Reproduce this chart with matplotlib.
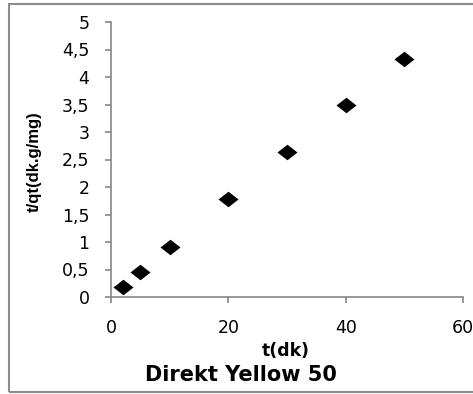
import matplotlib
matplotlib.use("Agg")
import matplotlib.pyplot as plt
from matplotlib.patches import Rectangle

# Kinetic data: contact time (min) vs t/qt
t_dk = [2, 5, 10, 20, 30, 40, 50]
t_qt = [0.19, 0.46, 0.91, 1.78, 2.63, 3.50, 4.32]

x_ticks = [0, 20, 40, 60]
y_ticks = [0, 0.5, 1, 1.5, 2, 2.5, 3, 3.5, 4, 4.5, 5]
y_tick_labels = ["0", "0,5", "1", "1,5", "2", "2,5", "3", "3,5", "4", "4,5", "5"]

plt.rcParams["font.family"] = ["DejaVu Sans"]

W, H = 473, 394
fig = plt.figure(figsize=(W / 100, H / 100), dpi=100)
ax = fig.add_axes([111 / W, 1 - 297 / H, 352 / W, 275 / H])

# slightly flattened diamond marker
diamond = [(-1, 0), (0, 0.78), (1, 0), (0, -0.78), (-1, 0)]
ax.plot(t_dk, t_qt, linestyle="none", marker=diamond, markersize=14.4,
        color="black", markeredgewidth=0)

ax.set_xlim(0, 60)
ax.set_ylim(0, 5)
ax.set_xticks(x_ticks)
ax.set_yticks(y_ticks)
ax.set_yticklabels(y_tick_labels)

gray = "#868686"
for side in ["top", "right"]:
    ax.spines[side].set_visible(False)
for side in ["left", "bottom"]:
    ax.spines[side].set_color(gray)
    ax.spines[side].set_linewidth(1.2)
ax.tick_params(axis="both", direction="out", length=4.5, width=1.2, color=gray,
               labelsize=12.5, labelcolor="black")
ax.tick_params(axis="x", pad=11)
ax.tick_params(axis="y", pad=11)

fig.text(34 / W, 1 - 161.7 / H, "t/qt(dk.g/mg)", ha="center", va="center",
         rotation=90, fontsize=12, fontweight="bold",
         family=["Liberation Sans", "DejaVu Sans"])
fig.text(286 / W, 1 - 356 / H, "t(dk)", ha="center", va="baseline",
         fontsize=12.5, fontweight="bold")
fig.text(241 / W, 1 - 380.7 / H, "Direkt Yellow 50", ha="center",
         va="baseline", fontsize=15, fontweight="bold")

# outer chart frame (right edge runs past the canvas)
fig.patches.append(Rectangle((8.5 / W, 1 - 391.5 / H), 475 / W, 387.5 / H,
                             transform=fig.transFigure, fill=False,
                             edgecolor="#8c8c8c", linewidth=1.5))

fig.savefig("out.png", dpi=100)
